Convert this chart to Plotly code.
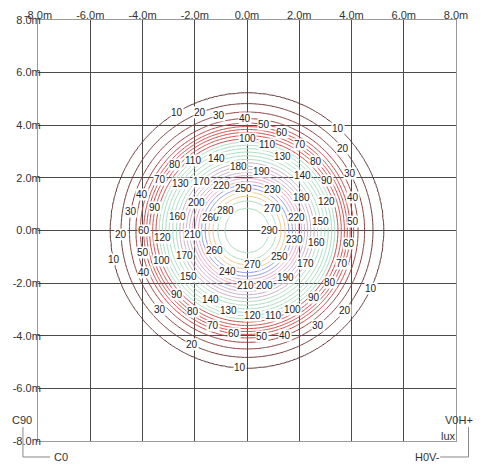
import numpy as np
import plotly.graph_objects as go

# Isolux levels (lux) and radius (m) of each contour
levels = [10, 20, 30, 40, 50, 60, 70, 80, 90, 100, 110, 120, 130, 140, 150,
          160, 170, 180, 190, 200, 210, 220, 230, 240, 250, 260, 270, 280, 290]
radii = [5.22, 4.82, 4.50, 4.25, 4.08, 3.95, 3.84, 3.73, 3.61, 3.48, 3.36, 3.24,
         3.11, 2.98, 2.84, 2.70, 2.57, 2.44, 2.32, 2.20, 2.09, 1.98, 1.86, 1.74,
         1.60, 1.46, 1.30, 1.12, 0.85]
peak_lux = 297
tick_vals = [-8, -6, -4, -2, 0, 2, 4, 6, 8]
tick_text = ["-8.0m", "-6.0m", "-4.0m", "-2.0m", "0.0m", "2.0m", "4.0m", "6.0m", "8.0m"]

# styles / label placement (degrees around the centre where each level is labelled)
level_colors = ["#5a2e2e", "#6e3434", "#8a3a3a", "#9c3838", "#c83c3c", "#d04242",
                "#d24646", "#d04040", "#d44a4a", "#cc4444", "#a6dcc0", "#a6dcc0",
                "#a6dcc0", "#a6dcc0", "#a6dcc0", "#a6dcc0", "#c8acc4", "#c8acc4",
                "#c8acc4", "#c8acc4", "#e8a4c4", "#e8a4c4", "#e8a4c4", "#8a96e4",
                "#8a96e4", "#f0c890", "#f0c890", "#a6dcc0", "#a6dcc0"]
label_angles = [
    [121, 192, 48, 267, 335], [112, 182, 40, 321, 244], [104, 171, 29, 307, 222],
    [91, 161, 202, 290, 17], [81, 192, 278, 5], [70, 180, 263, 353],
    [58, 150, 250, 341], [45, 138, 236, 328], [32, 166, 222, 315],
    [90, 199, 300], [77, 128, 287], [20, 185, 274], [64, 145, 257],
    [113, 45, 242], [7, 218], [169, 350], [133, 202, 331], [31, 98],
    [76, 309], [151, 288], [184, 268], [120, 15], [58, 350], [244],
    [95, 322], [161, 212], [41, 280], [137], [0],
]

# Build illuminance field from the radial profile
g = np.round(np.linspace(-6, 6, 241), 3)
X, Y = np.meshgrid(g, g)
R = np.sqrt(X ** 2 + Y ** 2)
prof_r = [0.0] + radii[::-1] + [6.0, 9.0]
prof_v = [peak_lux] + levels[::-1] + [5, 0]
Z = np.round(np.interp(R, prof_r, prof_v), 2)

n = len(levels)
cscale = [[i / (n - 1), c] for i, c in enumerate(level_colors)]

fig = go.Figure()
fig.add_trace(go.Contour(
    x=g, y=g, z=Z,
    zmin=levels[0], zmax=levels[-1],
    colorscale=cscale, showscale=False,
    contours=dict(start=levels[0], end=levels[-1], size=10, coloring="lines",
                  showlabels=False),
    line=dict(width=1),
    hoverinfo="skip",
))

lab_font = dict(size=10, color="#222", family="Liberation Sans")
annotations = []
for lev, r, angs in zip(levels, radii, label_angles):
    for a in angs:
        t = np.deg2rad(a)
        annotations.append(dict(x=float(r * np.cos(t)), y=float(r * np.sin(t)),
                                xref="x", yref="y", text=str(lev), showarrow=False,
                                xanchor="center", yanchor="middle",
                                font=lab_font, bgcolor="white", borderpad=0))

axis_common = dict(range=[-8, 8], tickvals=tick_vals, ticktext=tick_text,
                   showgrid=True, gridcolor="#4a4a4a", gridwidth=1, automargin=False,
                   zeroline=False, showline=True, linecolor="#999", mirror=True,
                   ticks="", tickfont=dict(size=11, color="#333", family="Liberation Sans"))
fig.update_xaxes(side="top", ticklabelstandoff=-4, **axis_common)
fig.update_yaxes(ticklabelstandoff=-6, **axis_common)

line_c = "#888"
shapes = [
    dict(type="line", xref="paper", yref="paper", x0=-0.036, y0=0.033, x1=-0.036, y1=-0.038,
         line=dict(color=line_c, width=1)),
    dict(type="line", xref="paper", yref="paper", x0=-0.036, y0=-0.038, x1=0.029, y1=-0.038,
         line=dict(color=line_c, width=1)),
    dict(type="line", xref="paper", yref="paper", x0=1.03, y0=0.033, x1=1.03, y1=-0.038,
         line=dict(color=line_c, width=1)),
    dict(type="line", xref="paper", yref="paper", x0=1.03, y0=-0.038, x1=0.962, y1=-0.038,
         line=dict(color=line_c, width=1)),
]
af = dict(size=11, color="#333", family="Liberation Sans")
corner = dict(xref="paper", yref="paper", showarrow=False, font=af,
              xanchor="center", yanchor="middle")
annotations += [
    dict(text="C90", x=-0.038, y=0.05, **corner),
    dict(text="C0", x=0.055, y=-0.038, **corner),
    dict(text="V0H+", x=1.008, y=0.05, **corner),
    dict(text="H0V-", x=0.931, y=-0.038, **corner),
    dict(text="lux", x=0.981, y=0.012, **corner),
]

# the page adds an 8px body margin, so left/top margins are reduced by 8px
fig.update_layout(
    width=476, height=459,
    margin=dict(l=30, r=28, t=12, b=26),
    paper_bgcolor="white", plot_bgcolor="white",
    shapes=shapes, annotations=annotations, showlegend=False,
)

fig.write_html("out.html")
